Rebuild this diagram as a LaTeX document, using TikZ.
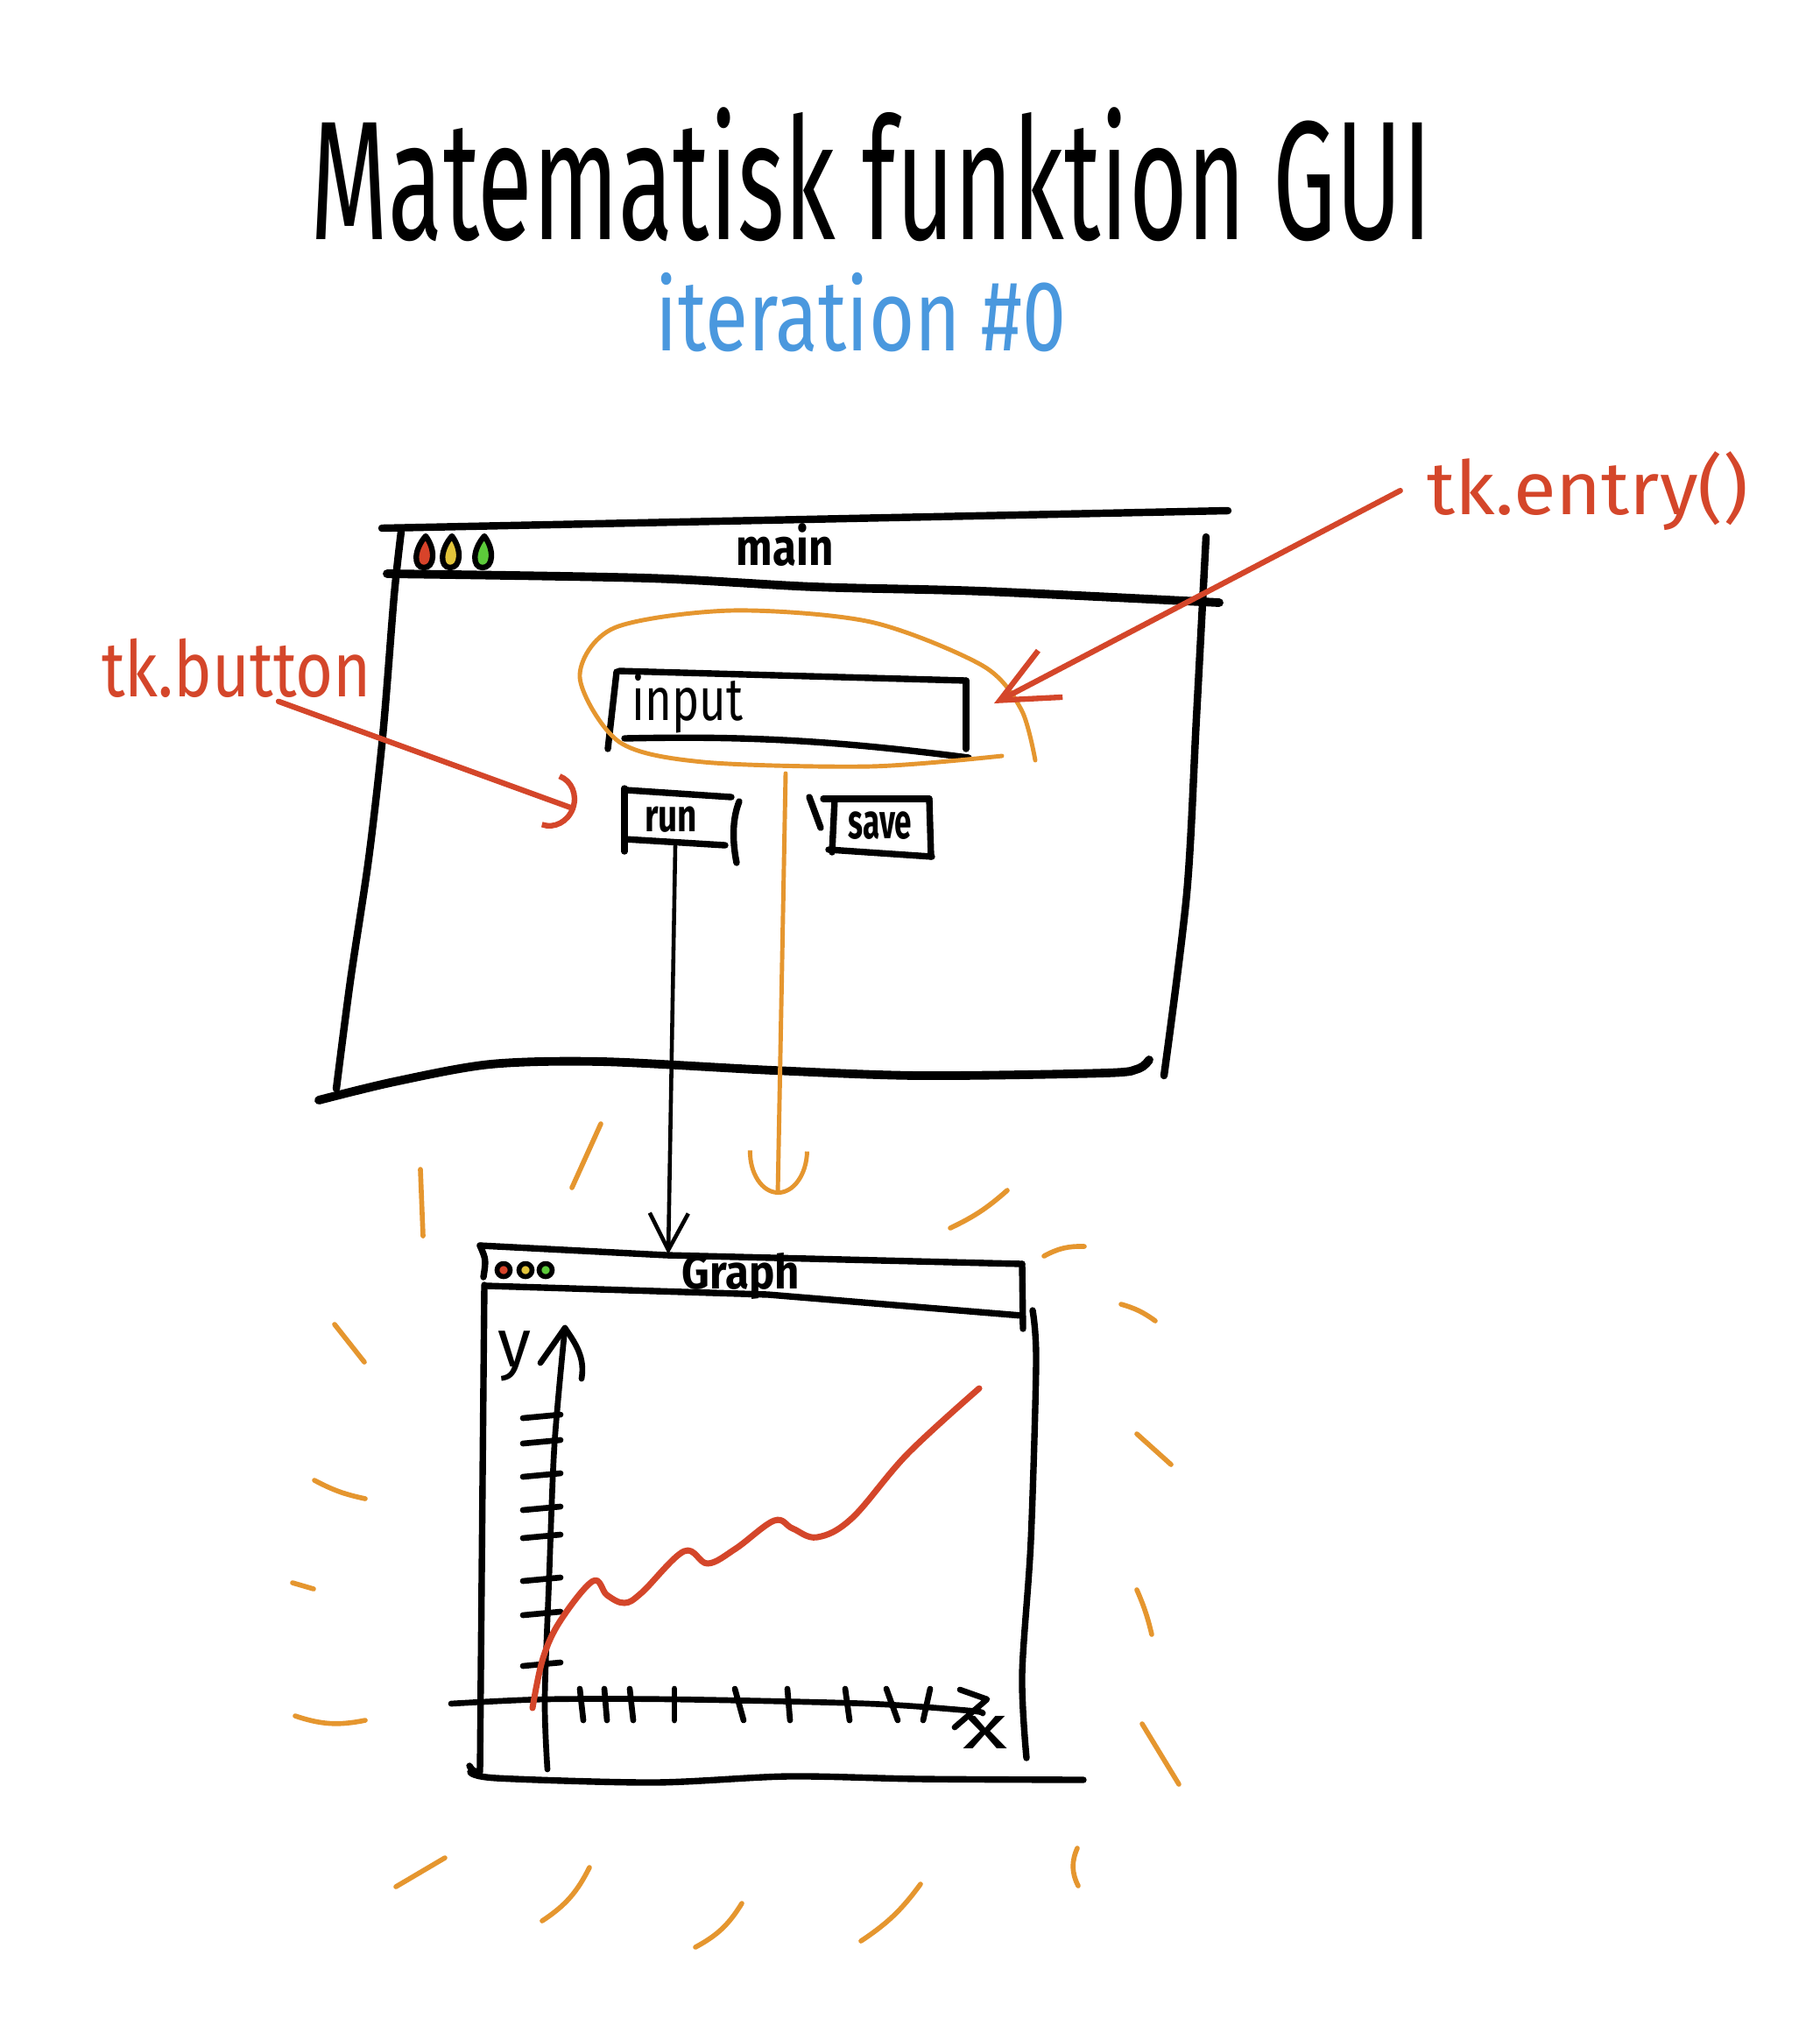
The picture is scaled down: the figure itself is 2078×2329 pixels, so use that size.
\documentclass[tikz,border=0pt]{standalone}
\usepackage{graphicx}
\usepackage{fontspec}
\setmainfont{Fira Sans}
\usepackage{xcolor}
\usetikzlibrary{arrows.meta,calc}

\definecolor{penred}{HTML}{D4462A}
\definecolor{penorange}{HTML}{E5962F}
\definecolor{penblue}{HTML}{4A98DE}
\definecolor{lampred}{HTML}{D8432A}
\definecolor{lampyellow}{HTML}{E2C43A}
\definecolor{lampgreen}{HTML}{5CCB3A}

\begin{document}
\begin{tikzpicture}[x=0.01cm,y=-0.01cm,line cap=round,line join=round,
    pen/.style={black,line width=2.4pt},
    boxpen/.style={black,line width=2.1pt},
    thinpen/.style={black,line width=1.9pt},
    redpen/.style={penred,line width=1.8pt},
    glow/.style={penorange,line width=1.6pt},
    lbl/.style={inner sep=0pt,anchor=base}]
    \fill[white] (0,0) rectangle (2078,2329);
    \useasboundingbox (0,0) rectangle (2078,2329);

    % Headline
    \node[lbl,font=\fontsize{44}{44}\selectfont] (title) at (995,273) {\scalebox{0.74}[1.25]{Matematisk funktion GUI}};
    \node[lbl,penblue,font=\fontsize{25}{25}\selectfont] (subtitle) at (983,400) {\scalebox{1.02}[1.3]{iteration \#0}};

    % Main window
    \draw[pen] (436,603) -- (1402,583);
    \draw[pen] plot[smooth] coordinates {(458,607) (450,680) (437,840) (421,980) (400,1120) (384,1243)};
    \draw[pen] plot[smooth] coordinates {(1377,613) (1366,820) (1355,1020) (1329,1228)};
    \draw[pen,line width=2.8pt] plot[smooth] coordinates {(442,655) (739,660) (930,670) (1122,675) (1392,688)};
    \draw[pen,line width=2.8pt] plot[smooth] coordinates {(364,1256) (450,1235) (560,1215) (687,1212) (883,1222) (1051,1228) (1262,1225) (1300,1220) (1312,1210)};
    \foreach \px/\col in {484/lampred,514/lampyellow,551/lampgreen}
        \filldraw[fill=\col,draw=black,line width=1.8pt] (\px+2,612) .. controls (\px+14,628) and (\px+12,648) .. (\px,648) .. controls (\px-12,648) and (\px-12,628) .. cycle;
    \node[lbl,font=\bfseries\fontsize{14}{14}\selectfont] (mainlbl) at (896,645) {\scalebox{1}[1.2]{main}};

    % Entry field
    \draw[boxpen] (707,766) -- (1103,777);
    \draw[boxpen] (704,767) -- (694,855);
    \draw[boxpen] (713,843) .. controls (850,840) and (950,845) .. (1106,865);
    \draw[boxpen] (1103,777) -- (1103,855);
    \node[lbl,font=\fontsize{15}{15}\selectfont] (inputlbl) at (785,822) {\scalebox{1}[1.3]{input}};

    % Buttons
    \draw[boxpen] (715,902) -- (835,910);
    \draw[boxpen] (713,900) -- (713,972);
    \draw[boxpen] (713,958) -- (828,965);
    \draw[boxpen] (844,915) .. controls (836,935) and (836,960) .. (841,985);
    \node[lbl,font=\bfseries\fontsize{11}{11}\selectfont] (runlbl) at (766,949) {\scalebox{1}[1.35]{run}};
    \draw[boxpen] (924,910) -- (937,945);
    \draw[boxpen] (940,912) -- (1061,912);
    \draw[boxpen] (953,912) -- (950,973);
    \draw[boxpen] (1061,912) -- (1063,978);
    \draw[boxpen] (946,970) -- (1064,978);
    \node[lbl,font=\bfseries\fontsize{10}{10}\selectfont] (savelbl) at (1005,957) {\scalebox{1}[1.6]{save}};

    % Selection loop round the entry field
    \draw[glow,line width=1.4pt] plot[smooth] coordinates {(1144,863) (994,875) (803,870) (707,847) (662,773) (701,717) (835,697) (994,710) (1122,760) (1166,810) (1182,868)};

    % Annotations
    \node[lbl,penred,font=\fontsize{21}{21}\selectfont] (tkbutton) at (270,795) {\scalebox{1}[1.2]{tk.button}};
    \node[lbl,penred,font=\fontsize{22}{22}\selectfont] (tkentry) at (1813,587) {\scalebox{1.15}[1.1]{tk.entry()}};
    \coordinate (runhit) at (657,924);
    \coordinate (entryhit) at (1135,803);
    \draw[redpen,-{Arc Barb[length=0.3cm,width=0.65cm]}] ([xshift=0.48cm,yshift=-0.04cm]tkbutton.south) -- (runhit);
    \draw[redpen,-{Straight Barb[length=0.65cm,width=0.6cm]}] ([xshift=-0.3cm]tkentry.west) -- (entryhit);

    % Flow to the graph window
    \coordinate (runout) at (771,966);
    \coordinate (graphin) at (763,1432);
    \coordinate (loopout) at (897,883);
    \coordinate (glowin) at (888,1364);
    \draw[black,line width=1.3pt,-{Straight Barb[length=0.42cm,width=0.44cm]}] (runout) -- (graphin);
    \draw[glow,line width=1.4pt,-{Arc Barb[length=0.5cm,width=0.7cm]}] (loopout) -- (glowin);

    % Graph window
    \draw[thinpen,line width=2.1pt] (548,1422) -- (761,1433) -- (1167,1443);
    \draw[thinpen,line width=2.1pt] (548,1422) .. controls (555,1438) .. (552,1458);
    \draw[thinpen,line width=2.1pt] (556,1468) -- (877,1478) -- (1167,1502);
    \draw[thinpen,line width=2.1pt] (1167,1443) -- (1168,1517);
    \draw[thinpen,line width=2.1pt] plot[smooth] coordinates {(1179,1496) (1183,1555) (1177,1759) (1167,1912) (1172,2007)};
    \draw[thinpen,line width=2.1pt] (553,1467) -- (548,2023) .. controls (540,2022) .. (536,2016);
    \draw[thinpen,line width=2.1pt] plot[smooth] coordinates {(537,2023) (567,2030) (747,2035) (900,2028) (1050,2031) (1237,2032)};
    \foreach \px/\col in {575/lampred,600/lampyellow,623/lampgreen}
        \filldraw[fill=\col,draw=black,line width=1.6pt] (\px,1450) circle (7.5);
    \node[lbl,font=\bfseries\fontsize{14}{14}\selectfont] (graphlbl) at (846,1471) {\scalebox{1}[1.1]{Graph}};

    % Axes
    \draw[thinpen] plot[smooth] coordinates {(625,2020) (622,1940) (627,1800) (633,1650) (645,1516)};
    \draw[thinpen] (617,1556) -- (645,1516) .. controls (658,1535) and (668,1550) .. (664,1574);
    \draw[thinpen] plot[smooth] coordinates {(515,1945) (622,1940) (768,1940) (991,1945) (1107,1953) (1122,1956)};
    \draw[thinpen] (1096,1929) -- (1127,1940) -- (1090,1972);
    \foreach \ty in {1617,1646,1684,1722,1754,1803,1842,1900}
        \draw[thinpen] (597,\ty+2) -- (640,\ty-2);
    \foreach \xa/\xb in {662/666,690/693,719/723,770/770,839/849,899/902,965/970,1012/1025,1062/1054}
        \draw[thinpen] (\xa,1928) -- (\xb,1964);
    \node[font=\fontsize{22}{22}\selectfont] (ylbl) at (588,1548) {y};
    \node[font=\fontsize{20}{20}\selectfont] (xlbl) at (1125,1978) {\scalebox{1.5}[1]{x}};

    % Plotted function
    \draw[redpen,line width=2pt] plot[smooth,tension=0.6] coordinates {(608,1950) (620,1893) (640,1850) (677,1805) (693,1821) (713,1830) (733,1818) (781,1771) (808,1785) (840,1768) (884,1736) (905,1745) (933,1755) (973,1733) (1036,1660) (1118,1585)};

    % Glow strokes round the graph window
    \foreach \ax/\ay/\bx/\by/\bnd in {480/1335/483/1411/0, 686/1283/653/1356/0, 1085/1402/1150/1359/-8,
        1192/1434/1238/1423/15, 1280/1489/1319/1508/10, 1298/1637/1337/1672/0, 1298/1815/1315/1866/5,
        1304/1968/1346/2037/0, 1230/2110/1231/2153/-25, 983/2216/1051/2151/-10, 794/2223/847/2173/-15,
        619/2193/673/2132/-15, 452/2154/508/2121/0, 337/1959/417/1964/-15, 334/1807/358/1814/0,
        359/1690/417/1711/-8, 382/1512/416/1555/0}
        \draw[glow] (\ax,\ay) to[bend left=\bnd] (\bx,\by);
\end{tikzpicture}
\end{document}
